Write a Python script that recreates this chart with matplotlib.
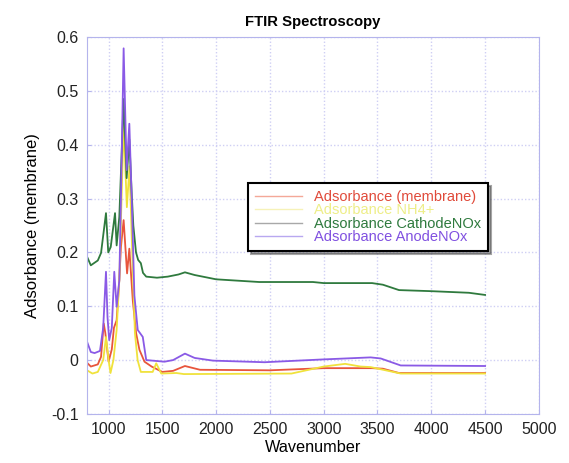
import matplotlib
matplotlib.use("Agg")
import matplotlib.pyplot as plt

plt.rcParams['font.family'] = ['Liberation Sans', 'DejaVu Sans']

# spectra (wavenumber, absorbance)
wn_membrane = [800, 835, 900, 930, 955, 970, 1000, 1030, 1050, 1075, 1100, 1115, 1140, 1172,
               1193, 1225, 1256, 1287, 1334, 1400, 1500, 1600, 1710, 1850, 2500, 3000, 3450,
               3550, 3700, 4500]
ab_membrane = [-0.005, -0.012, -0.008, 0.006, 0.068, 0.05, -0.003, 0.02, 0.06, 0.074, 0.15,
               0.21, 0.26, 0.161, 0.207, 0.111, 0.05, 0.019, -0.003, -0.012, -0.022, -0.02,
               -0.011, -0.018, -0.019, -0.015, -0.015, -0.016, -0.024, -0.024]

wn_nh4 = [800, 850, 900, 950, 976, 1000, 1018, 1045, 1075, 1100, 1140, 1170, 1195, 1220,
          1245, 1270, 1300, 1410, 1443, 1490, 1630, 1700, 2700, 3000, 3200, 3343, 3436,
          3716, 4500]
ab_nh4 = [-0.019, -0.025, -0.022, 0.0, 0.043, 0.0, -0.024, 0.0, 0.056, 0.15, 0.44, 0.284,
          0.36, 0.2, 0.05, 0.0, -0.022, -0.022, -0.006, -0.025, -0.024, -0.026, -0.025,
          -0.012, -0.007, -0.012, -0.013, -0.025, -0.025]

wn_cathode = [800, 835, 900, 930, 976, 997, 1020, 1060, 1075, 1100, 1140, 1168, 1193,
              1215, 1230, 1255, 1275, 1300, 1320, 1350, 1450, 1550, 1650, 1710, 1800, 2000,
              2400, 2900, 3000, 3450, 3550, 3700, 4000, 4350, 4500]
ab_cathode = [0.192, 0.176, 0.185, 0.199, 0.273, 0.2, 0.21, 0.273, 0.213, 0.266, 0.485,
              0.338, 0.41, 0.31, 0.25, 0.2, 0.186, 0.18, 0.162, 0.155, 0.153, 0.155, 0.159,
              0.163, 0.158, 0.150, 0.145, 0.145, 0.143, 0.143, 0.14, 0.130, 0.128, 0.125,
              0.121]

wn_anode = [800, 835, 870, 920, 950, 976, 990, 1006, 1030, 1053, 1075, 1100, 1115, 1140,
            1168, 1193, 1215, 1240, 1271, 1318, 1350, 1520, 1600, 1710, 1800, 1970, 2450,
            2970, 3436, 3530, 3716, 4500]
ab_anode = [0.034, 0.015, 0.013, 0.017, 0.06, 0.164, 0.08, 0.037, 0.06, 0.164, 0.099, 0.148,
            0.3, 0.579, 0.353, 0.439, 0.3, 0.12, 0.056, 0.043, 0.0, -0.003, 0.0, 0.012,
            0.004, -0.001, -0.004, 0.001, 0.005, 0.003, -0.01, -0.011]

series = [
    ('Adsorbance (membrane)', wn_membrane, ab_membrane, '#e8553c', '#f4a898', '#e04a3a'),
    ('Adsorbance NH4+', wn_nh4, ab_nh4, '#f0e23c', '#f6f2b8', '#eeee88'),
    ('Adsorbance CathodeNOx', wn_cathode, ab_cathode, '#2f7a3e', '#a8a8a8', '#2f7a3e'),
    ('Adsorbance AnodeNOx', wn_anode, ab_anode, '#8a5ae6', '#b8a8f0', '#8050e0'),
]

fig = plt.figure(figsize=(5.69, 4.63), dpi=100)
ax = fig.add_axes([0.153, 0.106, 0.794, 0.814])

for label, x, y, col, _, _ in series:
    ax.plot(x, y, color=col, lw=1.3, label=label)

ax.set_xlim(800, 5000)
ax.set_ylim(-0.1, 0.6)
ax.set_xticks([1000, 1500, 2000, 2500, 3000, 3500, 4000, 4500, 5000])
ax.set_yticks([-0.1, 0, 0.1, 0.2, 0.3, 0.4, 0.5, 0.6])
ax.set_yticklabels(['-0.1', '0', '0.1', '0.2', '0.3', '0.4', '0.5', '0.6'])

ax.grid(True, color='#cfcff4', ls=(0, (1, 1.5)), lw=1.0)
for s in ax.spines.values():
    s.set_color('#b4b4ec')
ax.tick_params(direction='in', color='#b4b4ec', length=3, labelsize=11.5,
               labelcolor='#222222', pad=6)

ax.set_title('FTIR Spectroscopy', fontsize=10.7, fontweight='bold', pad=8)
ax.set_xlabel('Wavenumber', fontsize=11.7, labelpad=2)
ax.set_ylabel('Adsorbance (membrane)', fontsize=12, labelpad=8)

leg = ax.legend(loc='upper left', bbox_to_anchor=(0.356, 0.613), fontsize=10.5,
                frameon=True, fancybox=False, shadow=True, framealpha=1,
                edgecolor='black', borderaxespad=0, labelspacing=-0.05,
                handlelength=3.2, borderpad=0.5)
leg.get_frame().set_linewidth(1.5)
for line, txt, s in zip(leg.get_lines(), leg.get_texts(), series):
    line.set_color(s[4])
    line.set_linewidth(1.0)
    txt.set_color(s[5])

fig.savefig('out.png', dpi=100)
